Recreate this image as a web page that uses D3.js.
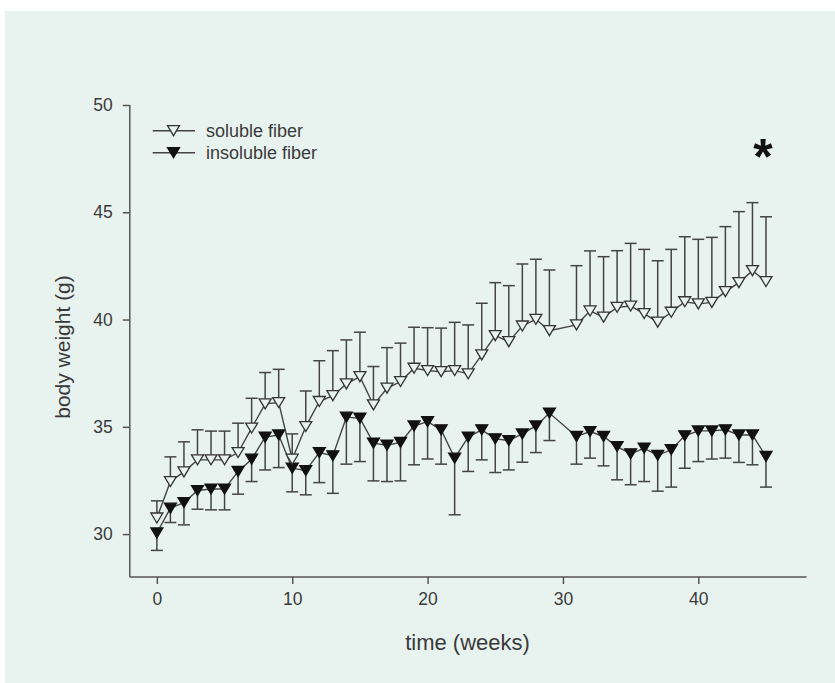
<!DOCTYPE html>
<html>
<head>
<meta charset="utf-8">
<script src="https://cdn.jsdelivr.net/npm/d3@7"></script>
<style>
  html, body { margin: 0; padding: 0; background: #ffffff; }
  svg { display: block; font-family: "Liberation Sans", Arial, Helvetica, sans-serif; }
</style>
</head>
<body>
<svg id="chart" width="835" height="683"></svg>
<script>
// ---- data ----
const weeks = [0,1,2,3,4,5,6,7,8,9,10,11,12,13,14,15,16,17,18,19,20,21,22,23,24,25,26,27,28,29,
               31,32,33,34,35,36,37,38,39,40,41,42,43,44,45];

const solubleMean = [30.75,32.45,32.9,33.46,33.46,33.46,33.8,34.94,36.07,36.13,33.49,35.01,36.18,36.45,37.0,37.34,36.02,36.8,37.11,37.73,37.62,37.57,37.62,37.47,38.35,39.25,38.97,39.7,40.01,39.48,
                     39.75,40.4,40.11,40.57,40.63,40.28,39.88,40.34,40.83,40.73,40.8,41.3,41.72,42.28,41.77];
const solubleSEM  = [0.8,1.15,1.4,1.4,1.34,1.34,1.37,1.39,1.46,1.55,1.18,1.66,1.9,2.1,2.05,2.07,1.79,1.89,1.79,1.91,2.0,2.03,2.25,2.28,2.41,2.47,2.61,2.89,2.8,2.83,
                     2.76,2.8,2.82,2.64,2.92,2.99,2.86,2.93,3.03,3.01,3.03,3.03,3.31,3.17,3.02];

const insolubleMean = [30.05,31.21,31.47,32.03,32.1,32.1,32.92,33.49,34.52,34.62,33.07,32.96,33.8,33.65,35.45,35.4,34.24,34.14,34.27,35.04,35.24,34.86,33.54,34.52,34.86,34.44,34.36,34.67,35.04,35.64,
                       34.55,34.78,34.55,34.08,33.74,34.0,33.67,33.93,34.58,34.81,34.81,34.86,34.62,34.62,33.62];
const insolubleSEM  = [0.81,0.67,1.04,0.87,0.97,0.97,1.06,1.04,1.53,1.52,1.1,1.13,1.4,1.75,2.19,2.02,1.76,1.69,1.79,1.81,1.74,1.6,2.64,1.6,1.4,1.57,1.37,1.32,1.24,1.28,
                       1.29,1.24,1.37,1.55,1.44,1.55,1.67,1.74,1.51,1.43,1.31,1.32,1.28,1.39,1.43];

const xTicks = [0,10,20,30,40];
const yTicks = [30,35,40,45,50];
const seriesNames = ["soluble fiber", "insoluble fiber"];
const xTitle = "time (weeks)";
const yTitle = "body weight (g)";
const significance = "*";

// ---- layout ----
const panelColor = "#e8f3f0";
const inkColor = "#3a3a3a";
const svg = d3.select("#chart");

svg.append("rect").attr("x", 5).attr("y", 11).attr("width", 830).attr("height", 672)
   .attr("fill", panelColor);

const x = d3.scaleLinear().domain([-2, 48]).range([129.8, 806.6]);
const y = d3.scaleLinear().domain([28, 50]).range([577, 105]);

// axes
const xAxis = svg.append("g").attr("transform", `translate(0,${y(28)})`)
  .call(d3.axisBottom(x).tickValues(xTicks).tickSize(7).tickPadding(9).tickFormat(d3.format("d")));
const yAxis = svg.append("g").attr("transform", `translate(${x(-2)},0)`)
  .call(d3.axisLeft(y).tickValues(yTicks).tickSize(7).tickPadding(10).tickFormat(d3.format("d")));

[xAxis, yAxis].forEach(g => {
  g.select(".domain").attr("stroke", "#555").attr("stroke-width", 1.5);
  g.selectAll(".tick line").attr("stroke", "#555").attr("stroke-width", 1.5);
  g.selectAll(".tick text").attr("fill", inkColor).style("font-size", "17.5px")
    .style("font-family", "'Liberation Sans', Arial, sans-serif");
});
xAxis.select(".domain").attr("d", `M${x(-2)},0H${x(48)}`);
yAxis.select(".domain").attr("d", `M0,${y(50)}V${y(28)}`);

// axis titles
svg.append("text").attr("x", 467.5).attr("y", 650).attr("text-anchor", "middle")
   .attr("fill", inkColor).style("font-size", "22px").text(xTitle);
svg.append("text").attr("transform", `translate(70,347) rotate(-90)`).attr("text-anchor", "middle")
   .attr("fill", inkColor).style("font-size", "21px").text(yTitle);

// series
const tri = "M-6,-5L6,-5L0,5Z";
const line = d3.line().x(d => x(d.w)).y(d => y(d.m));

const sol = weeks.map((w, i) => ({ w, m: solubleMean[i], e: solubleSEM[i] }));
const ins = weeks.map((w, i) => ({ w, m: insolubleMean[i], e: insolubleSEM[i] }));

function drawSeries(data, dir, filled) {
  const g = svg.append("g");
  g.append("path").datum(data).attr("d", line).attr("fill", "none")
   .attr("stroke", "#444").attr("stroke-width", 1.4);
  const eb = g.selectAll(".eb").data(data).enter().append("g");
  eb.append("line").attr("x1", d => x(d.w)).attr("x2", d => x(d.w))
    .attr("y1", d => y(d.m)).attr("y2", d => y(d.m + dir * d.e))
    .attr("stroke", "#444").attr("stroke-width", 1.5);
  eb.append("line").attr("x1", d => x(d.w) - 6).attr("x2", d => x(d.w) + 6)
    .attr("y1", d => y(d.m + dir * d.e)).attr("y2", d => y(d.m + dir * d.e))
    .attr("stroke", "#444").attr("stroke-width", 1.5);
  g.selectAll(".mk").data(data).enter().append("path")
   .attr("d", tri).attr("transform", d => `translate(${x(d.w)},${y(d.m)})`)
   .attr("fill", filled ? "#111" : panelColor)
   .attr("stroke", filled ? "#111" : "#333").attr("stroke-width", 1.3);
}
drawSeries(ins, -1, true);
drawSeries(sol, +1, false);

// legend
const legendY = [130.7, 152.7];
seriesNames.forEach((name, i) => {
  const gy = legendY[i];
  svg.append("line").attr("x1", 152.7).attr("x2", 195).attr("y1", gy).attr("y2", gy)
     .attr("stroke", "#444").attr("stroke-width", 1.4);
  svg.append("path").attr("d", tri).attr("transform", `translate(173.5,${gy})`)
     .attr("fill", i === 1 ? "#111" : panelColor).attr("stroke", i === 1 ? "#111" : "#333")
     .attr("stroke-width", 1.3);
  svg.append("text").attr("x", 206).attr("y", gy + 6).attr("fill", inkColor)
     .style("font-size", "18px").text(name);
});

// significance marker
svg.append("text").attr("x", 763).attr("y", 174).attr("text-anchor", "middle")
   .attr("fill", "#111").style("font-size", "50px").style("font-weight", "bold").text(significance);
</script>
</body>
</html>
